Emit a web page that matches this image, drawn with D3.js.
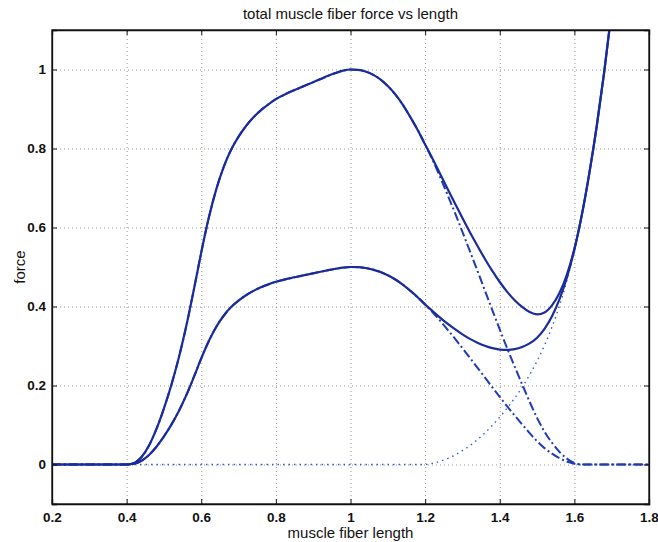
<!DOCTYPE html>
<html>
<head>
<meta charset="utf-8">
<script src="https://cdn.jsdelivr.net/npm/d3@7"></script>
<style>
  body { margin: 0; background: #fff; }
  svg { font-family: "Liberation Sans", Arial, sans-serif; }
  .tick text { font-size: 13.5px; font-weight: bold; fill: #111; }
  .axis path, .axis line { stroke: #111; }
  .grid line { stroke: #9c9684; stroke-dasharray: 1,3; }
  .grid path { display: none; }
</style>
</head>
<body>
<div id="chart"></div>
<script>
// fiber length samples (shared x positions)
var lengths = [0.2, 0.4, 0.42, 0.44, 0.46, 0.48, 0.5, 0.52, 0.54, 0.56, 0.58, 0.6, 0.62, 0.64, 0.66, 0.68, 0.7,
  0.72, 0.74, 0.76, 0.78, 0.8, 0.82, 0.84, 0.86, 0.88, 0.9, 0.92, 0.94, 0.96, 0.98, 1.0,
  1.02, 1.04, 1.06, 1.08, 1.1, 1.12, 1.14, 1.16, 1.18, 1.2, 1.22, 1.24, 1.26, 1.28, 1.3,
  1.32, 1.34, 1.36, 1.38, 1.4, 1.42, 1.44, 1.46, 1.48, 1.5, 1.52, 1.54, 1.56, 1.58, 1.6,
  1.62, 1.64, 1.66, 1.68, 1.7, 1.72, 1.8];

// active force, full activation (dash-dot)
var activeFull = [0, 0, 0.004, 0.019, 0.048, 0.09, 0.142, 0.202, 0.271, 0.351, 0.442, 0.537, 0.624, 0.696, 0.753, 0.797, 0.83,
  0.857, 0.879, 0.897, 0.912, 0.925, 0.935, 0.944, 0.952, 0.96, 0.968, 0.976, 0.984, 0.991, 0.997, 1.0,
  0.999, 0.995, 0.987, 0.975, 0.958, 0.937, 0.911, 0.88, 0.847, 0.81, 0.771, 0.728, 0.683, 0.637, 0.589,
  0.54, 0.491, 0.441, 0.391, 0.342, 0.294, 0.248, 0.203, 0.159, 0.118, 0.083, 0.055, 0.032, 0.015, 0.004,
  0, 0, 0, 0, 0, 0, 0];

// active force, half activation (dash-dot)
var activeHalf = [0, 0, 0.002, 0.0095, 0.024, 0.045, 0.071, 0.101, 0.1355, 0.1755, 0.221, 0.2685, 0.312, 0.348, 0.3765, 0.3985, 0.415,
  0.4285, 0.4395, 0.4485, 0.456, 0.4625, 0.4675, 0.472, 0.476, 0.48, 0.484, 0.488, 0.492, 0.4955, 0.4985, 0.5,
  0.4995, 0.4975, 0.4935, 0.4875, 0.479, 0.4685, 0.4555, 0.44, 0.4235, 0.405, 0.3855, 0.364, 0.3415, 0.3185, 0.2945,
  0.27, 0.2455, 0.2205, 0.1955, 0.171, 0.147, 0.124, 0.1015, 0.0795, 0.059, 0.0415, 0.0275, 0.016, 0.0075, 0.002,
  0, 0, 0, 0, 0, 0, 0];

// passive force (dotted)
var passive = [0, 0, 0, 0, 0, 0, 0, 0, 0, 0, 0, 0, 0, 0, 0, 0, 0,
  0, 0, 0, 0, 0, 0, 0, 0, 0, 0, 0, 0, 0, 0, 0,
  0, 0, 0, 0, 0, 0, 0, 0, 0, 0, 0.003, 0.008, 0.015, 0.024, 0.035,
  0.048, 0.063, 0.08, 0.099, 0.12, 0.143, 0.168, 0.196, 0.227, 0.262, 0.302, 0.348, 0.402, 0.466, 0.542,
  0.632, 0.737, 0.857, 0.994, 1.149, 1.324, null];

// total force, full activation (solid)
var totalFull = [0, 0, 0.004, 0.019, 0.048, 0.09, 0.142, 0.202, 0.271, 0.351, 0.442, 0.537, 0.624, 0.696, 0.753, 0.797, 0.83,
  0.857, 0.879, 0.897, 0.912, 0.925, 0.935, 0.944, 0.952, 0.96, 0.968, 0.976, 0.984, 0.991, 0.997, 1.0,
  0.999, 0.995, 0.987, 0.975, 0.958, 0.937, 0.911, 0.88, 0.847, 0.81, 0.774, 0.736, 0.698, 0.661, 0.624,
  0.588, 0.554, 0.521, 0.49, 0.462, 0.437, 0.416, 0.399, 0.386, 0.38, 0.385, 0.403, 0.434, 0.481, 0.546,
  0.632, 0.737, 0.857, 0.994, 1.149, 1.324, null];

// total force, half activation (solid)
var totalHalf = [0, 0, 0.002, 0.0095, 0.024, 0.045, 0.071, 0.101, 0.1355, 0.1755, 0.221, 0.2685, 0.312, 0.348, 0.3765, 0.3985, 0.415,
  0.4285, 0.4395, 0.4485, 0.456, 0.4625, 0.4675, 0.472, 0.476, 0.48, 0.484, 0.488, 0.492, 0.4955, 0.4985, 0.5,
  0.4995, 0.4975, 0.4935, 0.4875, 0.479, 0.4685, 0.4555, 0.44, 0.4235, 0.405, 0.3885, 0.372, 0.3565, 0.3425, 0.3295,
  0.318, 0.3085, 0.3005, 0.2945, 0.291, 0.29, 0.292, 0.2975, 0.3065, 0.321, 0.3435, 0.3755, 0.418, 0.4735, 0.544,
  0.632, 0.737, 0.857, 0.994, 1.149, 1.324, null];

var xTicks = [0.2, 0.4, 0.6, 0.8, 1, 1.2, 1.4, 1.6, 1.8];
var yTicks = [0, 0.2, 0.4, 0.6, 0.8, 1];

var svgWidth = 658;
var svgHeight = 542;
var margin = { top: 30, right: 9, bottom: 38, left: 52 };
var chartWidth = svgWidth - margin.left - margin.right;
var chartHeight = svgHeight - margin.top - margin.bottom;

var svg = d3.select("#chart").append("svg")
            .attr("width", svgWidth)
            .attr("height", svgHeight);

var chartGroup = svg.append("g")
                    .attr("transform", `translate(${margin.left}, ${margin.top})`);

var xScale = d3.scaleLinear().domain([0.2, 1.8]).range([0, chartWidth]);
var yScale = d3.scaleLinear().domain([-0.1, 1.1]).range([chartHeight, 0]);

// dotted grid
chartGroup.append("g").attr("class", "grid")
          .attr("transform", `translate(0, ${chartHeight})`)
          .call(d3.axisBottom(xScale).tickValues(xTicks.slice(1, -1)).tickSize(-chartHeight).tickFormat(""));
chartGroup.append("g").attr("class", "grid")
          .call(d3.axisLeft(yScale).tickValues(yTicks).tickSize(-chartWidth).tickFormat(""));

chartGroup.append("clipPath").attr("id", "clip")
          .append("rect").attr("width", chartWidth).attr("height", chartHeight);

var plot = chartGroup.append("g").attr("clip-path", "url(#clip)");

function lineFor(values) {
    return d3.line()
             .defined((d, i) => values[i] !== null)
             .x((d, i) => xScale(lengths[i]))
             .y((d, i) => yScale(values[i]))
             .curve(d3.curveMonotoneX)(lengths);
}

plot.append("path").attr("d", lineFor(passive))
    .attr("fill", "none").attr("stroke", "#3558e0").attr("stroke-width", 1.4)
    .attr("stroke-dasharray", "1.5,4");

[activeFull, activeHalf].forEach(s => {
    plot.append("path").attr("d", lineFor(s))
        .attr("fill", "none").attr("stroke", "#1e3cb4").attr("stroke-width", 2)
        .attr("stroke-dasharray", "9,3,2,3");
});

[totalFull, totalHalf].forEach(s => {
    plot.append("path").attr("d", lineFor(s))
        .attr("fill", "none").attr("stroke", "#1a2c9c").attr("stroke-width", 2.2);
});

// axes with inward ticks on all four sides
var bottomAxis = d3.axisBottom(xScale).tickValues(xTicks).tickSize(-5).tickPadding(8)
                   .tickFormat(d3.format("~g"));
chartGroup.append("g").attr("class", "axis")
          .attr("transform", `translate(0, ${chartHeight})`)
          .call(bottomAxis);

var leftAxis = d3.axisLeft(yScale).tickValues(yTicks).tickSize(-5).tickPadding(6)
                 .tickFormat(d3.format("~g"));
chartGroup.append("g").attr("class", "axis").call(leftAxis);

chartGroup.append("g").attr("class", "axis")
          .call(d3.axisTop(xScale).tickValues(xTicks).tickSize(-5).tickFormat(""));
chartGroup.append("g").attr("class", "axis")
          .attr("transform", `translate(${chartWidth}, 0)`)
          .call(d3.axisRight(yScale).tickValues(yTicks).tickSize(-5).tickFormat(""));

chartGroup.selectAll(".axis path").attr("stroke-width", 1.3);

chartGroup.append("rect")
          .attr("width", chartWidth).attr("height", chartHeight)
          .attr("fill", "none").attr("stroke", "#111").attr("stroke-width", 1.3);

svg.append("text")
   .attr("x", margin.left + chartWidth / 2).attr("y", 19)
   .attr("text-anchor", "middle").attr("font-size", "15px").attr("fill", "#111")
   .text("total muscle fiber force vs length");

svg.append("text")
   .attr("x", margin.left + chartWidth / 2).attr("y", 538)
   .attr("text-anchor", "middle").attr("font-size", "15px").attr("fill", "#111")
   .text("muscle fiber length");

svg.append("text")
   .attr("transform", "rotate(-90)")
   .attr("x", -(margin.top + chartHeight / 2)).attr("y", 25)
   .attr("text-anchor", "middle").attr("font-size", "15px").attr("fill", "#111")
   .text("force");
</script>
</body>
</html>
